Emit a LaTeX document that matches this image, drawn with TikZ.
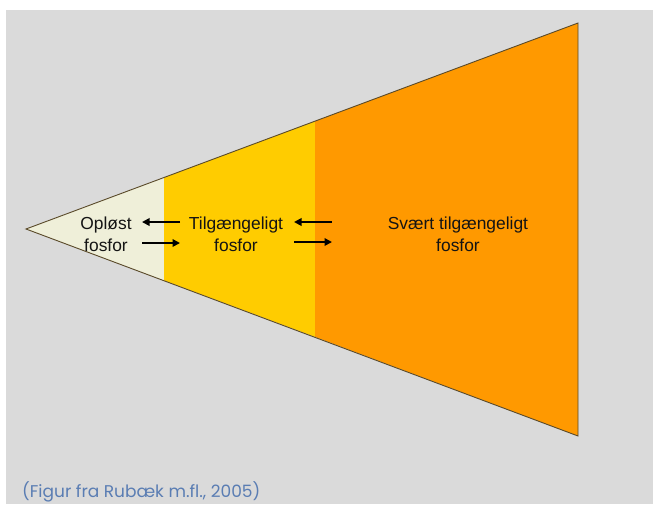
\documentclass[tikz,border=0pt]{standalone}
\usepackage{fontspec}
\setmainfont{Liberation Sans}
\newfontfamily\capfont{Poppins}
\usetikzlibrary{arrows.meta}
\definecolor{bggray}{HTML}{DADADA}
\definecolor{cream}{HTML}{EFEFD9}
\definecolor{yel}{HTML}{FFCC00}
\definecolor{ora}{HTML}{FF9900}
\definecolor{edge}{HTML}{5A4A2A}
\definecolor{txt}{HTML}{141414}
\definecolor{capblue}{HTML}{5A7DB3}
\tikzset{
  lbl/.style={text=txt, font=\fontsize{17.4}{22}\selectfont, align=center, inner sep=0pt},
  flowarrow/.style={-{Triangle[length=7.5pt,width=7.5pt]}, line width=1.8pt, draw=black},
}
\begin{document}
\begin{tikzpicture}[x=1pt,y=-1pt]
\useasboundingbox (0,0) rectangle (653,504);
\fill[white] (0,0) rectangle (653,504);
\fill[bggray] (6,10) rectangle (653,504);
% regions
\coordinate (apex) at (26,229);
\coordinate (tr) at (578,23);
\coordinate (br) at (578,436);
\fill[cream] (apex) -- (164,177.5) -- (164,280.5) -- cycle;
\fill[yel] (164,177.5) -- (315,121.1) -- (315,336.9) -- (164,280.5) -- cycle;
\fill[ora] (315,121.1) -- (tr) -- (br) -- (315,336.9) -- cycle;
\draw[edge, line width=0.9pt, line join=miter] (apex) -- (tr) -- (br) -- cycle;
% labels
\node[lbl] (opl) at (106,234) {Opløst\\fosfor};
\node[lbl] (tilg) at (236,234) {Tilgængeligt\\fosfor};
\node[lbl] (svt) at (458,234) {Svært tilgængeligt\\fosfor};
% arrows
\coordinate (a1s) at (180,222); \coordinate (a1e) at (142,222);
\coordinate (a2s) at (142,243); \coordinate (a2e) at (180,243);
\coordinate (a3s) at (332,222); \coordinate (a3e) at (294,222);
\coordinate (a4s) at (294,242); \coordinate (a4e) at (332,242);
\draw[flowarrow] (a1s) -- (a1e);
\draw[flowarrow] (a2s) -- (a2e);
\draw[flowarrow] (a3s) -- (a3e);
\draw[flowarrow] (a4s) -- (a4e);
% caption
\node[anchor=base west, inner sep=0pt, text=capblue, font=\capfont\fontsize{17}{19}\selectfont] (cap) at (22,497) {(Figur fra Rubæk m.fl., 2005)};
\end{tikzpicture}
\end{document}
